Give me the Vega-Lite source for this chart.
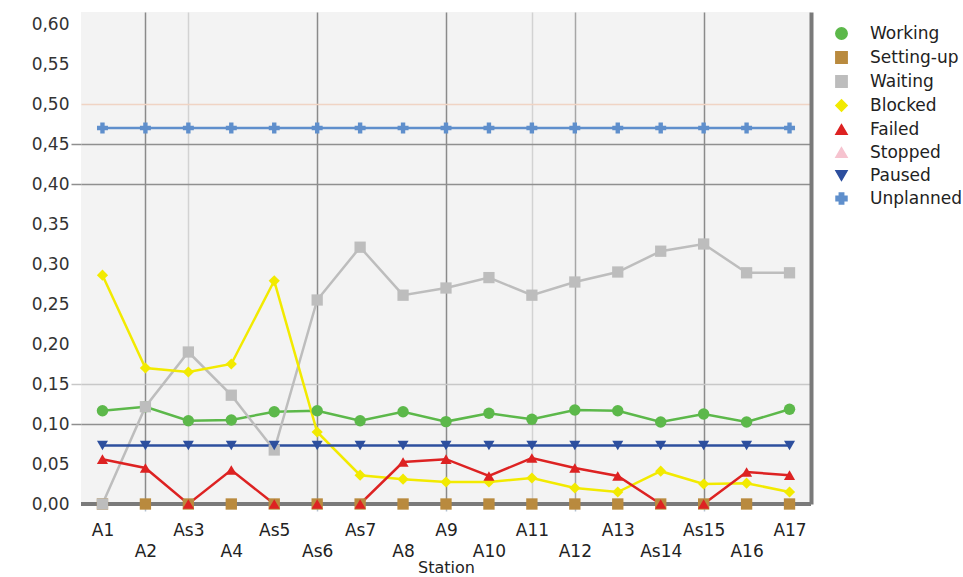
{
  "$schema": "https://vega.github.io/schema/vega-lite/v6.json",
  "width": 730,
  "height": 492,
  "autosize": {"type": "none"},
  "padding": {"left": 81, "top": 12, "right": 152, "bottom": 73},
  "background": "#ffffff",
  "config": {
    "font": "DejaVu Sans",
    "view": {"fill": "#f3f3f3", "stroke": null},
    "axis": {"labelFont": "DejaVu Sans", "titleFont": "DejaVu Sans"},
    "legend": {
      "orient": "none",
      "legendX": 752,
      "legendY": 13,
      "labelFontSize": 17,
      "labelColor": "#222222",
      "labelOffset": 20,
      "rowPadding": 5,
      "padding": 0,
      "symbolType": "circle"
    }
  },
  "data": {
    "values": [
      {"station": "A1", "series": "Working", "value": 0.1166},
      {"station": "A2", "series": "Working", "value": 0.1216},
      {"station": "As3", "series": "Working", "value": 0.104},
      {"station": "A4", "series": "Working", "value": 0.105},
      {"station": "As5", "series": "Working", "value": 0.1154},
      {"station": "As6", "series": "Working", "value": 0.1166},
      {"station": "As7", "series": "Working", "value": 0.104},
      {"station": "A8", "series": "Working", "value": 0.1154},
      {"station": "A9", "series": "Working", "value": 0.103},
      {"station": "A10", "series": "Working", "value": 0.1134},
      {"station": "A11", "series": "Working", "value": 0.106},
      {"station": "A12", "series": "Working", "value": 0.1175},
      {"station": "A13", "series": "Working", "value": 0.1166},
      {"station": "As14", "series": "Working", "value": 0.1025},
      {"station": "As15", "series": "Working", "value": 0.1125},
      {"station": "A16", "series": "Working", "value": 0.1025},
      {"station": "A17", "series": "Working", "value": 0.1184},

      {"station": "A1", "series": "Setting-up", "value": 0},
      {"station": "A2", "series": "Setting-up", "value": 0},
      {"station": "As3", "series": "Setting-up", "value": 0},
      {"station": "A4", "series": "Setting-up", "value": 0},
      {"station": "As5", "series": "Setting-up", "value": 0},
      {"station": "As6", "series": "Setting-up", "value": 0},
      {"station": "As7", "series": "Setting-up", "value": 0},
      {"station": "A8", "series": "Setting-up", "value": 0},
      {"station": "A9", "series": "Setting-up", "value": 0},
      {"station": "A10", "series": "Setting-up", "value": 0},
      {"station": "A11", "series": "Setting-up", "value": 0},
      {"station": "A12", "series": "Setting-up", "value": 0},
      {"station": "A13", "series": "Setting-up", "value": 0},
      {"station": "As14", "series": "Setting-up", "value": 0},
      {"station": "As15", "series": "Setting-up", "value": 0},
      {"station": "A16", "series": "Setting-up", "value": 0},
      {"station": "A17", "series": "Setting-up", "value": 0},

      {"station": "A1", "series": "Waiting", "value": 0},
      {"station": "A2", "series": "Waiting", "value": 0.1216},
      {"station": "As3", "series": "Waiting", "value": 0.19},
      {"station": "A4", "series": "Waiting", "value": 0.136},
      {"station": "As5", "series": "Waiting", "value": 0.0675},
      {"station": "As6", "series": "Waiting", "value": 0.255},
      {"station": "As7", "series": "Waiting", "value": 0.321},
      {"station": "A8", "series": "Waiting", "value": 0.261},
      {"station": "A9", "series": "Waiting", "value": 0.27},
      {"station": "A10", "series": "Waiting", "value": 0.283},
      {"station": "A11", "series": "Waiting", "value": 0.261},
      {"station": "A12", "series": "Waiting", "value": 0.2775},
      {"station": "A13", "series": "Waiting", "value": 0.29},
      {"station": "As14", "series": "Waiting", "value": 0.316},
      {"station": "As15", "series": "Waiting", "value": 0.325},
      {"station": "A16", "series": "Waiting", "value": 0.289},
      {"station": "A17", "series": "Waiting", "value": 0.289},

      {"station": "A1", "series": "Blocked", "value": 0.286},
      {"station": "A2", "series": "Blocked", "value": 0.17},
      {"station": "As3", "series": "Blocked", "value": 0.165},
      {"station": "A4", "series": "Blocked", "value": 0.175},
      {"station": "As5", "series": "Blocked", "value": 0.279},
      {"station": "As6", "series": "Blocked", "value": 0.09},
      {"station": "As7", "series": "Blocked", "value": 0.036},
      {"station": "A8", "series": "Blocked", "value": 0.031},
      {"station": "A9", "series": "Blocked", "value": 0.0275},
      {"station": "A10", "series": "Blocked", "value": 0.0275},
      {"station": "A11", "series": "Blocked", "value": 0.0325},
      {"station": "A12", "series": "Blocked", "value": 0.02},
      {"station": "A13", "series": "Blocked", "value": 0.015},
      {"station": "As14", "series": "Blocked", "value": 0.041},
      {"station": "As15", "series": "Blocked", "value": 0.025},
      {"station": "A16", "series": "Blocked", "value": 0.026},
      {"station": "A17", "series": "Blocked", "value": 0.015},

      {"station": "A1", "series": "Failed", "value": 0.056},
      {"station": "A2", "series": "Failed", "value": 0.045},
      {"station": "As3", "series": "Failed", "value": 0},
      {"station": "A4", "series": "Failed", "value": 0.0425},
      {"station": "As5", "series": "Failed", "value": 0},
      {"station": "As6", "series": "Failed", "value": 0},
      {"station": "As7", "series": "Failed", "value": 0},
      {"station": "A8", "series": "Failed", "value": 0.0525},
      {"station": "A9", "series": "Failed", "value": 0.056},
      {"station": "A10", "series": "Failed", "value": 0.035},
      {"station": "A11", "series": "Failed", "value": 0.0575},
      {"station": "A12", "series": "Failed", "value": 0.045},
      {"station": "A13", "series": "Failed", "value": 0.035},
      {"station": "As14", "series": "Failed", "value": 0},
      {"station": "As15", "series": "Failed", "value": 0},
      {"station": "A16", "series": "Failed", "value": 0.04},
      {"station": "A17", "series": "Failed", "value": 0.036},

      {"station": "A1", "series": "Paused", "value": 0.073},
      {"station": "A2", "series": "Paused", "value": 0.073},
      {"station": "As3", "series": "Paused", "value": 0.073},
      {"station": "A4", "series": "Paused", "value": 0.073},
      {"station": "As5", "series": "Paused", "value": 0.073},
      {"station": "As6", "series": "Paused", "value": 0.073},
      {"station": "As7", "series": "Paused", "value": 0.073},
      {"station": "A8", "series": "Paused", "value": 0.073},
      {"station": "A9", "series": "Paused", "value": 0.073},
      {"station": "A10", "series": "Paused", "value": 0.073},
      {"station": "A11", "series": "Paused", "value": 0.073},
      {"station": "A12", "series": "Paused", "value": 0.073},
      {"station": "A13", "series": "Paused", "value": 0.073},
      {"station": "As14", "series": "Paused", "value": 0.073},
      {"station": "As15", "series": "Paused", "value": 0.073},
      {"station": "A16", "series": "Paused", "value": 0.073},
      {"station": "A17", "series": "Paused", "value": 0.073},

      {"station": "A1", "series": "Unplanned", "value": 0.47},
      {"station": "A2", "series": "Unplanned", "value": 0.47},
      {"station": "As3", "series": "Unplanned", "value": 0.47},
      {"station": "A4", "series": "Unplanned", "value": 0.47},
      {"station": "As5", "series": "Unplanned", "value": 0.47},
      {"station": "As6", "series": "Unplanned", "value": 0.47},
      {"station": "As7", "series": "Unplanned", "value": 0.47},
      {"station": "A8", "series": "Unplanned", "value": 0.47},
      {"station": "A9", "series": "Unplanned", "value": 0.47},
      {"station": "A10", "series": "Unplanned", "value": 0.47},
      {"station": "A11", "series": "Unplanned", "value": 0.47},
      {"station": "A12", "series": "Unplanned", "value": 0.47},
      {"station": "A13", "series": "Unplanned", "value": 0.47},
      {"station": "As14", "series": "Unplanned", "value": 0.47},
      {"station": "As15", "series": "Unplanned", "value": 0.47},
      {"station": "A16", "series": "Unplanned", "value": 0.47},
      {"station": "A17", "series": "Unplanned", "value": 0.47}
    ]
  },
  "resolve": {"axis": {"y": "independent"}},
  "layer": [
    {
      "mark": {"type": "line", "strokeWidth": 2.5},
      "encoding": {
        "x": {
          "field": "station",
          "type": "nominal",
          "sort": null,
          "scale": {"type": "point", "padding": 0.5},
          "axis": {
            "title": "Station",
            "titleFontSize": 16,
            "titleFontWeight": "normal",
            "titleColor": "#222222",
            "titlePadding": 0,
            "labelFontSize": 17,
            "labelColor": "#222222",
            "labelPadding": 11,
            "labelLineHeight": 21,
            "labelOverlap": false,
            "labelFlush": false,
            "labelAngle": 0,
            "labelExpr": "indexof(['A2','A4','As6','A8','A10','A12','As14','A16'], datum.value) >= 0 ? ['', datum.value] : datum.value",
            "domain": false,
            "ticks": true,
            "tickSize": 7,
            "tickWidth": 1.5,
            "tickColor": {"condition": {"test": "indexof(['A2','As6','A9','A12','As15'], datum.value) >= 0", "value": "#b4c2d0"}, "value": "transparent"},
            "grid": true,
            "gridWidth": 1.5,
            "gridColor": {"condition": [
              {"test": "indexof(['A2','As6','A9','As15'], datum.value) >= 0", "value": "#8a8a8a"},
              {"test": "datum.value == 'A12'", "value": "#a6a6a6"},
              {"test": "indexof(['As3','A11'], datum.value) >= 0", "value": "#d2d2d2"}
            ], "value": "transparent"}
          }
        },
        "y": {
          "field": "value",
          "type": "quantitative",
          "scale": {"domain": [0, 0.615], "nice": false, "zero": true},
          "axis": {
            "title": null,
            "values": [0, 0.05, 0.1, 0.15, 0.2, 0.25, 0.3, 0.35, 0.4, 0.45, 0.5, 0.55, 0.6],
            "labelExpr": "replace(format(datum.value, '.2f'), '.', ',')",
            "labelFontSize": 17,
            "labelColor": "#333333",
            "labelPadding": 2,
            "domain": false,
            "ticks": true,
            "tickSize": 10,
            "tickWidth": 1.5,
            "tickColor": {"condition": [
              {"test": "indexof([10, 40, 45], round(datum.value * 100)) >= 0", "value": "#8f8f8f"},
              {"test": "round(datum.value * 100) == 15", "value": "#c8c8c8"}
            ], "value": "transparent"},
            "grid": true,
            "gridWidth": 1.5,
            "gridColor": {"condition": [
              {"test": "indexof([10, 40, 45], round(datum.value * 100)) >= 0", "value": "#8f8f8f"},
              {"test": "round(datum.value * 100) == 15", "value": "#c8c8c8"},
              {"test": "round(datum.value * 100) == 50", "value": "#f0d4c4"}
            ], "value": "transparent"}
          }
        },
        "color": {
          "field": "series",
          "type": "nominal",
          "scale": {
            "domain": ["Working", "Setting-up", "Waiting", "Blocked", "Failed", "Stopped", "Paused", "Unplanned"],
            "range": ["#5cb84a", "#b98a3e", "#bdbdbd", "#f2ea00", "#dd2222", "#f6c3cf", "#2d4f9e", "#5f8fcc"]
          },
          "title": null
        }
      }
    },
    {
      "data": {"values": [{"base": 0}]},
      "mark": {"type": "rule", "color": "#7a7a7a", "strokeWidth": 4},
      "encoding": {
        "y": {
          "field": "base",
          "type": "quantitative",
          "axis": {"orient": "right", "labels": false, "ticks": false, "grid": false, "title": null, "domain": true, "domainColor": "#7a7a7a", "domainWidth": 4}
        }
      }
    },
    {
      "mark": {"type": "point", "filled": true, "opacity": 1},
      "encoding": {
        "x": {"field": "station", "type": "nominal", "sort": null},
        "y": {"field": "value", "type": "quantitative", "axis": null},
        "color": {"field": "series", "type": "nominal", "title": null},
        "shape": {
          "field": "series",
          "type": "nominal",
          "title": null,
          "scale": {
            "domain": ["Working", "Setting-up", "Waiting", "Blocked", "Failed", "Stopped", "Paused", "Unplanned"],
            "range": ["circle", "square", "square", "diamond", "triangle-up", "triangle-up", "triangle-down", "cross"]
          }
        },
        "size": {
          "field": "series",
          "type": "nominal",
          "title": null,
          "scale": {
            "domain": ["Working", "Setting-up", "Waiting", "Blocked", "Failed", "Stopped", "Paused", "Unplanned"],
            "range": [130, 120, 120, 120, 150, 150, 140, 10]
          }
        }
      }
    }
  ]
}
